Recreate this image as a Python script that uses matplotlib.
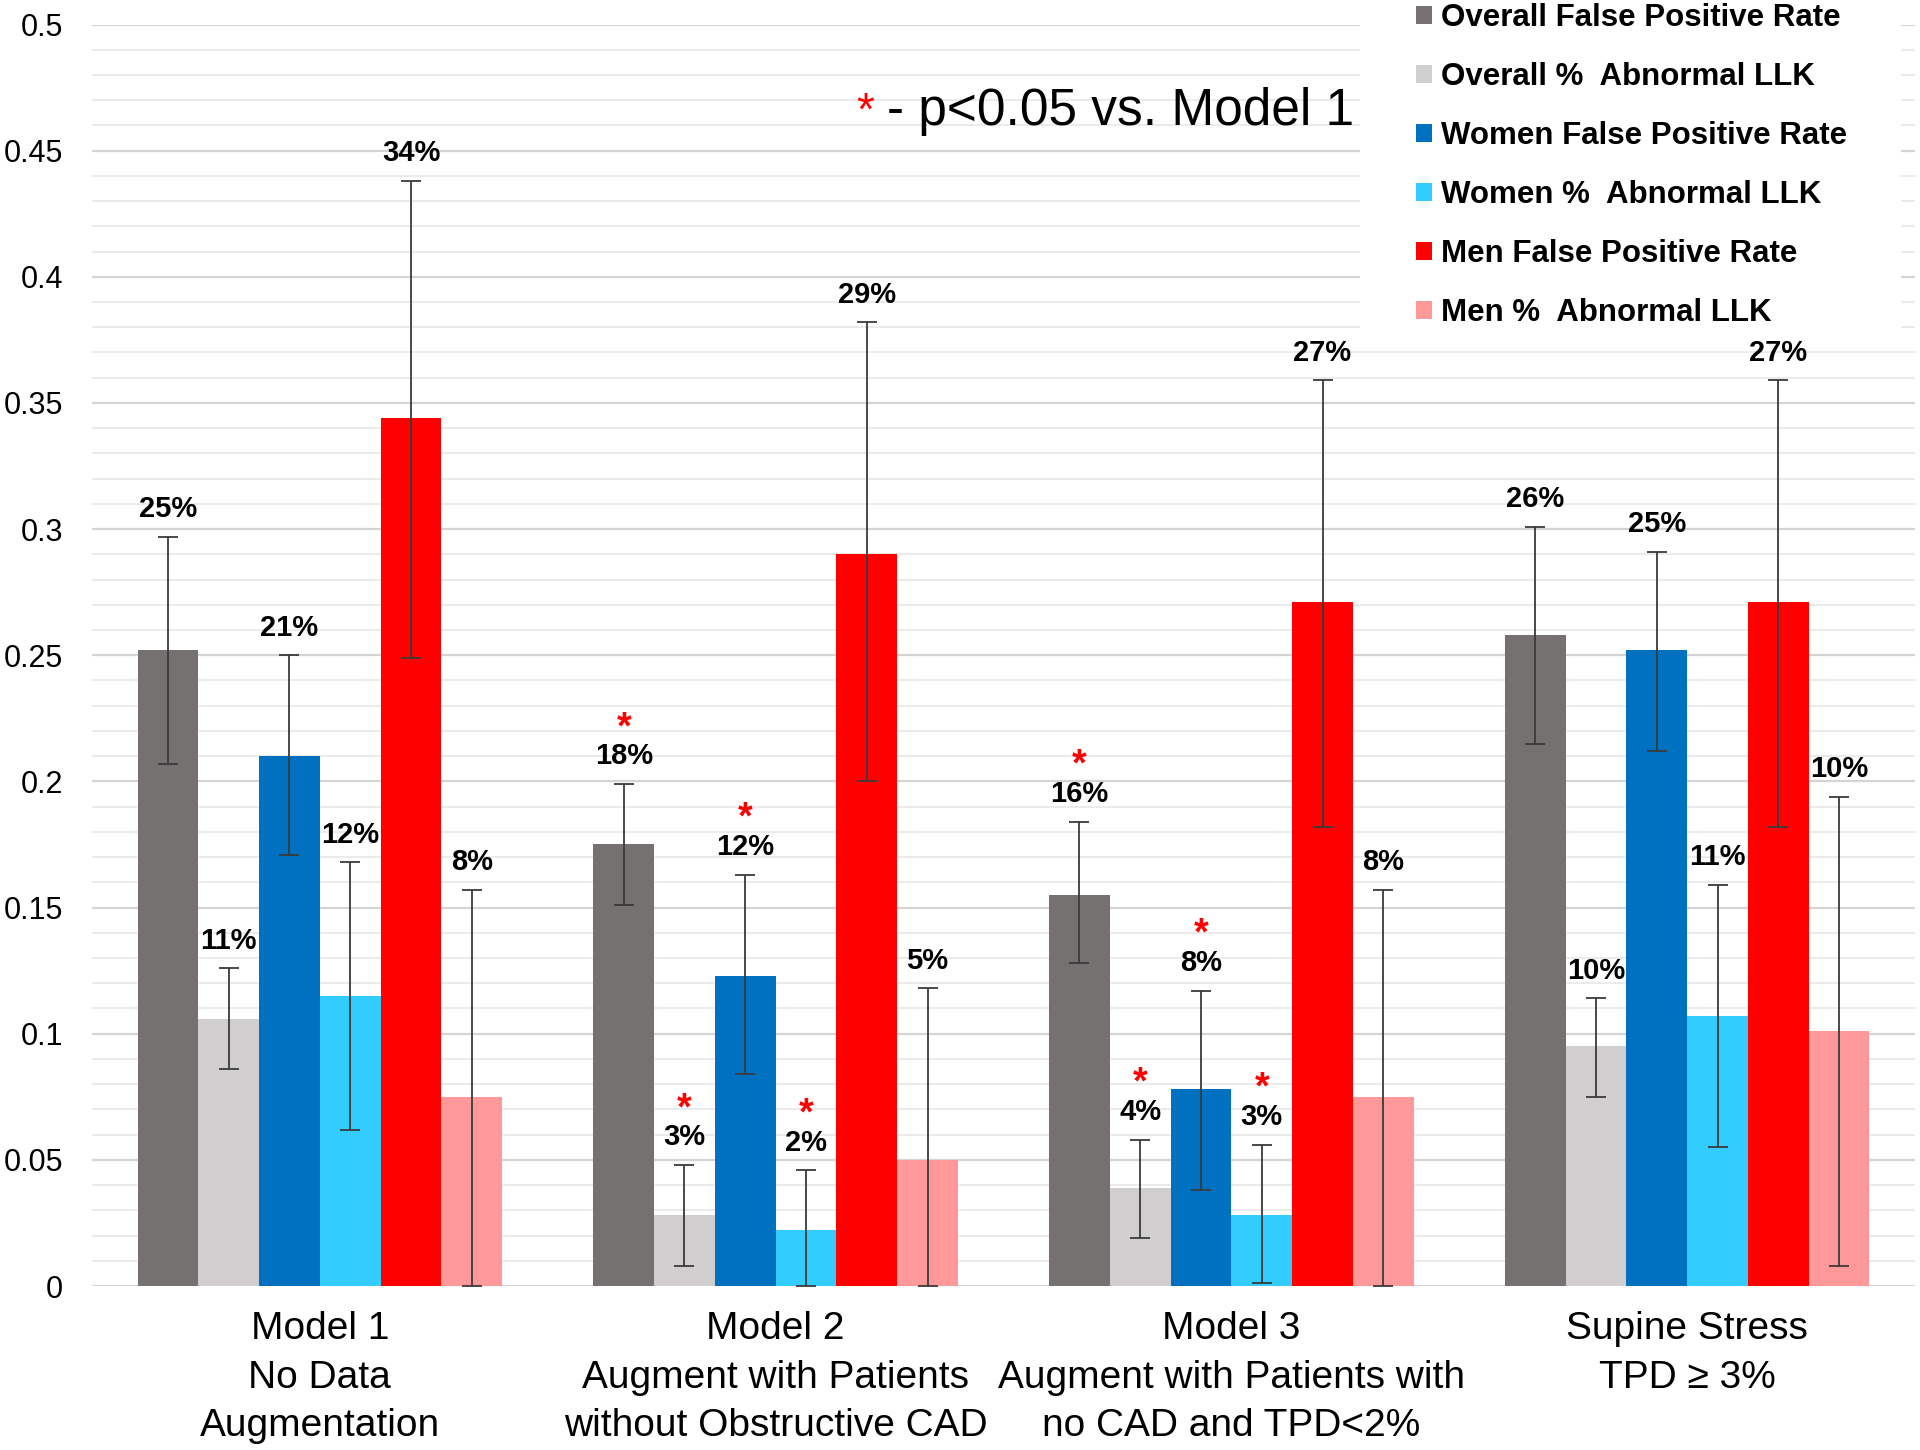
import numpy as np
import matplotlib
matplotlib.use("Agg")
import matplotlib.pyplot as plt
from matplotlib.patches import Rectangle

plt.rcParams["font.family"] = ["Liberation Sans", "DejaVu Sans"]

categories = [
    "Model 1\nNo Data\nAugmentation",
    "Model 2\nAugment with Patients\nwithout Obstructive CAD",
    "Model 3\nAugment with Patients with\nno CAD and TPD<2%",
    "Supine Stress\nTPD \u2265 3%",
]

series_names = [
    "Overall False Positive Rate",
    "Overall %  Abnormal LLK",
    "Women False Positive Rate",
    "Women %  Abnormal LLK",
    "Men False Positive Rate",
    "Men %  Abnormal LLK",
]
colors = ["#767171", "#d0cece", "#0070c0", "#33ccff", "#ff0000", "#ff9999"]

overall_fpr = [0.252, 0.175, 0.155, 0.258]
overall_fpr_lo = [0.207, 0.151, 0.128, 0.215]
overall_fpr_hi = [0.297, 0.199, 0.184, 0.301]

overall_llk = [0.106, 0.028, 0.039, 0.095]
overall_llk_lo = [0.086, 0.008, 0.019, 0.075]
overall_llk_hi = [0.126, 0.048, 0.058, 0.114]

women_fpr = [0.210, 0.123, 0.078, 0.252]
women_fpr_lo = [0.171, 0.084, 0.038, 0.212]
women_fpr_hi = [0.250, 0.163, 0.117, 0.291]

women_llk = [0.115, 0.022, 0.028, 0.107]
women_llk_lo = [0.062, 0.0, 0.001, 0.055]
women_llk_hi = [0.168, 0.046, 0.056, 0.159]

men_fpr = [0.344, 0.290, 0.271, 0.271]
men_fpr_lo = [0.249, 0.200, 0.182, 0.182]
men_fpr_hi = [0.438, 0.382, 0.359, 0.359]

men_llk = [0.075, 0.050, 0.075, 0.101]
men_llk_lo = [0.0, 0.0, 0.0, 0.008]
men_llk_hi = [0.157, 0.118, 0.157, 0.194]

# percent labels as printed on the chart
overall_fpr_lbl = ["25%", "18%", "16%", "26%"]
overall_llk_lbl = ["11%", "3%", "4%", "10%"]
women_fpr_lbl = ["21%", "12%", "8%", "25%"]
women_llk_lbl = ["12%", "2%", "3%", "11%"]
men_fpr_lbl = ["34%", "29%", "27%", "27%"]
men_llk_lbl = ["8%", "5%", "8%", "10%"]

# p<0.05 vs. Model 1
overall_fpr_sig = [False, True, True, False]
overall_llk_sig = [False, True, True, False]
women_fpr_sig = [False, True, True, False]
women_llk_sig = [False, True, True, False]
men_fpr_sig = [False, False, False, False]
men_llk_sig = [False, False, False, False]

y_ticks = [0, 0.05, 0.1, 0.15, 0.2, 0.25, 0.3, 0.35, 0.4, 0.45, 0.5]
y_tick_labels = ["0", "0.05", "0.1", "0.15", "0.2", "0.25", "0.3", "0.35", "0.4", "0.45", "0.5"]

values = [overall_fpr, overall_llk, women_fpr, women_llk, men_fpr, men_llk]
lows = [overall_fpr_lo, overall_llk_lo, women_fpr_lo, women_llk_lo, men_fpr_lo, men_llk_lo]
highs = [overall_fpr_hi, overall_llk_hi, women_fpr_hi, women_llk_hi, men_fpr_hi, men_llk_hi]
labels = [overall_fpr_lbl, overall_llk_lbl, women_fpr_lbl, women_llk_lbl, men_fpr_lbl, men_llk_lbl]
sigs = [overall_fpr_sig, overall_llk_sig, women_fpr_sig, women_llk_sig, men_fpr_sig, men_llk_sig]

fig = plt.figure(figsize=(19.2, 14.5), dpi=100)
ax = fig.add_axes([0.0479, 0.1131, 0.9495, 0.870])

x = np.arange(len(categories))
n = len(values)
width = 0.8 / n

handles = []
for i in range(n):
    pos = x + (i - (n - 1) / 2) * width
    v = np.array(values[i])
    lo = v - np.array(lows[i])
    hi = np.array(highs[i]) - v
    bars = ax.bar(pos, v, width, color=colors[i], zorder=2, label=series_names[i])
    handles.append(bars)
    ax.errorbar(pos, v, yerr=[lo, hi], fmt="none", ecolor="#3a3a3a", elinewidth=1.3,
                capsize=7, capthick=1.3, zorder=3)
    for j in range(len(x)):
        ax.annotate(labels[i][j], (pos[j], highs[i][j]), xytext=(0, 14),
                    textcoords="offset points", ha="center", va="baseline",
                    fontsize=21, fontweight="bold", color="black", zorder=4)
        if sigs[i][j]:
            ax.annotate("*", (pos[j], highs[i][j]), xytext=(0, 33),
                        textcoords="offset points", ha="center", va="baseline",
                        fontsize=27, fontweight="bold", color="red", zorder=4)

ax.set_xlim(-0.5, len(categories) - 0.5)
ax.set_ylim(0, 0.5)
ax.set_yticks(y_ticks)
ax.set_yticklabels(y_tick_labels, fontsize=22)
ax.set_yticks(np.arange(0, 0.501, 0.01), minor=True)
ax.set_xticks(x)
ax.set_xticklabels(categories, fontsize=28, linespacing=1.45)
ax.tick_params(axis="both", which="both", length=0)
ax.tick_params(axis="y", pad=21)
ax.tick_params(axis="x", pad=18)
ax.grid(axis="y", which="major", color="#d4d4d4", linewidth=1.6, zorder=0)
ax.grid(axis="y", which="minor", color="#e9e9e9", linewidth=1.3, zorder=0)
ax.set_axisbelow(True)
for s in ax.spines.values():
    s.set_visible(False)

# white area behind legend
fig.add_artist(Rectangle((1360 / 1920, 1 - 340 / 1450), 541 / 1920, 340 / 1450,
                         transform=fig.transFigure, facecolor="white",
                         edgecolor="none", zorder=2))
leg = fig.legend(handles=handles, loc="upper left", bbox_to_anchor=(1416 / 1920, 1 - 3 / 1450),
                 frameon=False, borderpad=0, borderaxespad=0, handlelength=0.5,
                 handleheight=0.5, handletextpad=0.3, labelspacing=0.93,
                 prop={"size": 22.5, "weight": "bold"})
leg.set_zorder(5)

fig.text(865 / 1920, 1 - 125 / 1450, "*", color="red", fontsize=33,
         ha="center", va="baseline", zorder=5)
fig.text(887 / 1920, 1 - 125 / 1450, "- p<0.05 vs. Model 1", color="black",
         fontsize=37, ha="left", va="baseline", zorder=5)

fig.savefig("out.png", dpi=100)
